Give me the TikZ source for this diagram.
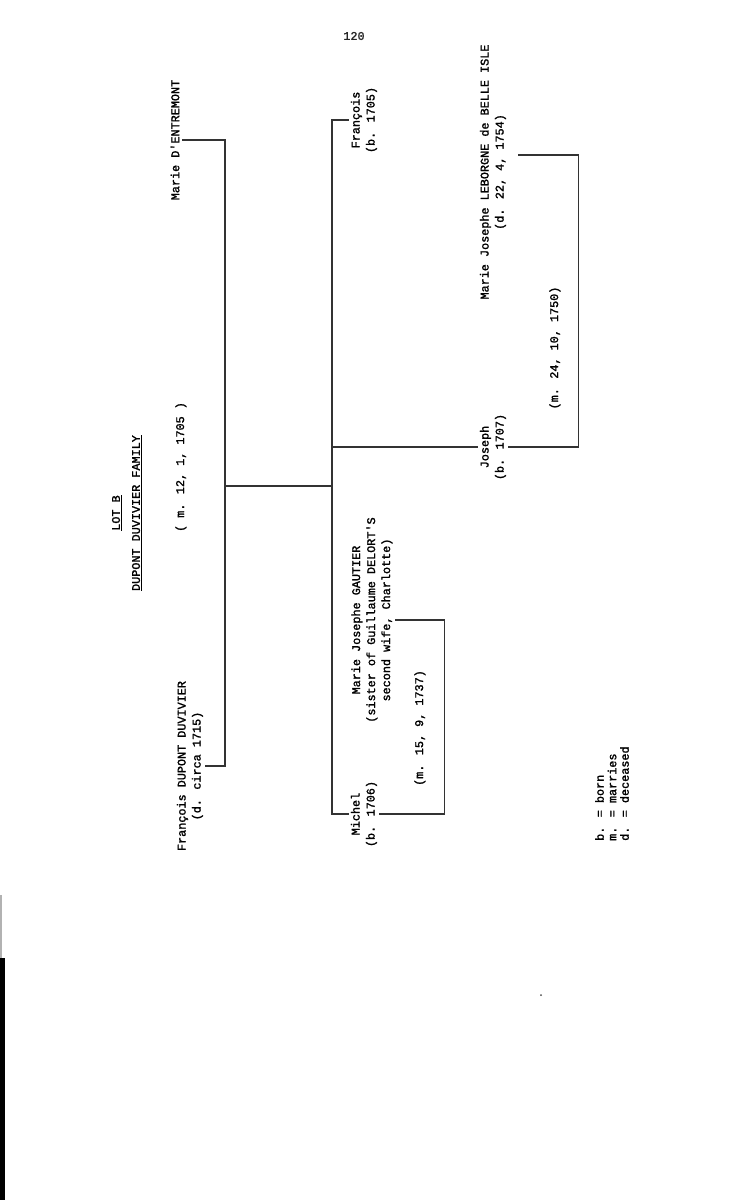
\documentclass[tikz,border=0pt]{standalone}
\usepackage{fontspec}
\setmainfont{Liberation Mono}[FakeBold=1.5]
\usepackage{tikz}

\newcommand{\typefont}{\fontsize{11.8}{15}\selectfont}
\newcommand{\keyfont}{\fontsize{11.8}{12.5}\selectfont}

\begin{document}
\begin{tikzpicture}[x=1pt, y=-1pt,
  typed/.style={rotate=90, font=\typefont, text=black, inner sep=2pt},
  tie/.style={draw=black!80, line width=1.1pt}]
  \useasboundingbox (0,0) rectangle (745,1200);
  \fill[white] (0,0) rectangle (745,1200);

  % Page number and heading
  \node[font=\typefont, text=black!85] (pagenum) at (354,36) {120};
  \node[typed, align=center] (title) at (127,513) {\underline{LOT B}\\[5pt]\underline{DUPONT DUVIVIER FAMILY}};

  % Parents
  \node[typed, align=center] (dupont) at (190,766) {François DUPONT DUVIVIER\\(d. circa 1715)};
  \node[typed] (entremont) at (175,140) {Marie D\textquotesingle ENTREMONT};
  \node[typed] (wed1) at (181,467) {( m. 12, 1, 1705 )};

  % Children
  \node[typed, align=center] (francois) at (364,120) {François\\(b. 1705)};
  \node[typed, align=center] (joseph) at (493,447) {Joseph\\(b. 1707)};
  \node[typed, align=center] (michel) at (364,814) {Michel\\(b. 1706)};

  % Spouses of the sons
  \node[typed, align=center] (gautier) at (372,620) {Marie Josephe GAUTIER\\(sister of Guillaume DELORT\textquotesingle S\\second wife, Charlotte)};
  \node[typed] (wed2) at (420,728) {(m. 15, 9, 1737)};
  \node[typed, align=center] (leborgne) at (493,172) {Marie Josephe LEBORGNE de BELLE ISLE\\(d. 22, 4, 1754)};
  \node[typed] (wed3) at (555,348) {(m. 24, 10, 1750)};

  % Key
  \node[typed, font=\keyfont, align=left, anchor=west] (key) at (612,843) {b. = born\\m. = marries\\d. = deceased};

  % Lines of descent
  \coordinate (parents) at (225,486);
  \coordinate (kids) at (332,486);
  \draw[tie] (dupont.south) -| (parents) |- (entremont.south);
  \draw[tie] (parents) -- (kids);
  \draw[tie] (francois.north) -| (kids) |- (michel.north);
  \draw[tie] (joseph.north) -- (joseph.north -| kids);

  % Marriages of the sons
  \draw[tie] (michel.south) -- ++(65,0) |- (gautier.south);
  \draw[tie] (joseph.south) -- ++(70,0) |- ([xshift=10pt, yshift=17pt]leborgne.south);

  % Marks left by the scan
  \fill[black!70] (541,995) circle (1);
  \fill[black!30] (0,895) rectangle (2,958);
  \fill[black] (0,958) rectangle (4.5,1200);
\end{tikzpicture}
\end{document}
